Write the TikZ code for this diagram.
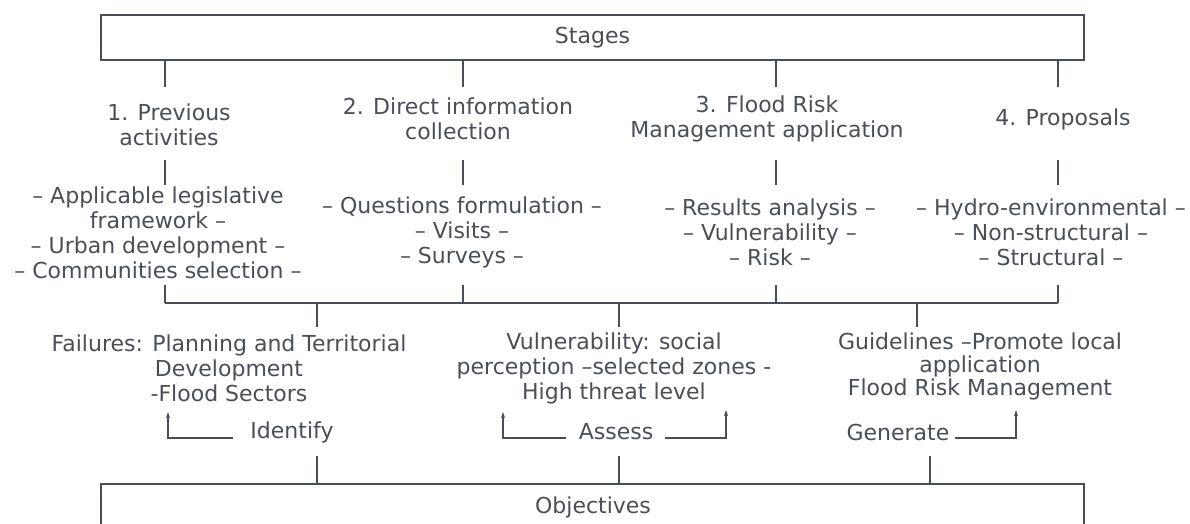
\documentclass[tikz,border=0pt]{standalone}
\usepackage{fontspec}
\setmainfont{DejaVu Sans}
\usetikzlibrary{arrows.meta}
\definecolor{ink}{HTML}{4A4F57}
\begin{document}
\begin{tikzpicture}[x=1pt,y=-1pt,
  every node/.style={text=ink,font=\fontsize{22}{25}\selectfont,align=center,inner sep=0pt},
  frame/.style={draw=ink,line width=1.6pt},
  link/.style={draw=ink,line width=1.6pt},
  pointer/.style={draw=ink,line width=1.3pt,-{Stealth[length=6pt,width=4pt]}}]
\clip (0,0) rectangle (1190,523);
\fill[white] (0,0) rectangle (1190,523);

% header and footer boxes
\draw[frame] (101,15) rectangle (1084,60);
\node (stages) at (592.5,38) {Stages};
\draw[frame] (101,484) rectangle (1084,560);
\node (objectives) at (593,507) {Objectives};

% stage titles
\node (s1) at (169,125) {1. Previous\\activities};
\node (s2) at (458,119) {2. Direct information\\collection};
\node (s3) at (767,119) {3. Flood Risk\\Management application};
\node (s4) at (1063,119) {4. Proposals};

% activities of each stage
\node (b1) at (158,232.5) {– Applicable legislative\\framework –\\– Urban development –\\– Communities selection –};
\node (b2) at (462,232) {– Questions formulation –\\– Visits –\\– Surveys –};
\node (b3) at (770,232) {– Results analysis –\\– Vulnerability –\\– Risk –};
\node (b4) at (1051,232) {– Hydro-environmental –\\– Non-structural –\\– Structural –};

% outcomes
\node (o1) at (229,368) {Failures: Planning and Territorial\\Development\\-Flood Sectors};
\node (o2) at (614,368) {Vulnerability: social\\perception –selected zones -\\High threat level};
\node[font=\fontsize{22}{23}\selectfont] (o3) at (980,366) {Guidelines –Promote local\\application\\Flood Risk Management};

% objective verbs
\node (identify) at (292,432) {Identify};
\node (assess) at (616,432) {Assess};
\node (generate) at (898,432) {Generate};

% column positions
\coordinate (c1) at (165,0);
\coordinate (c2) at (463,0);
\coordinate (c3) at (776,0);
\coordinate (c4) at (1058,0);
\coordinate (d1) at (317,0);
\coordinate (d2) at (619,0);
\coordinate (d3) at (917,0);
\coordinate (e3) at (930,0);

% pointer targets below the outcome texts
\coordinate (t1) at (168,412);
\coordinate (t2) at (503,412);
\coordinate (t3) at (726,410);
\coordinate (t4) at (1016,410);

% stage box to stage titles
\foreach \c in {c1,c2,c3,c4}
  \draw[link] (\c |- 0,60) -- (\c |- 0,87);
% stage titles to activities
\foreach \c in {c1,c2,c3,c4}
  \draw[link] (\c |- 0,160) -- (\c |- 0,185);
% activities to the collecting bus
\foreach \c in {c1,c2,c3,c4}
  \draw[link] (\c |- 0,285) -- (\c |- 0,303);
\draw[link] (c1 |- 0,303) -- (c4 |- 0,303);
% bus to outcomes
\foreach \c in {d1,d2,d3}
  \draw[link] (\c |- 0,303) -- (\c |- 0,327);
% objectives box to verbs
\foreach \c in {d1,d2,e3}
  \draw[link] (\c |- 0,484) -- (\c |- 0,456);

% verb pointers
\draw[pointer] ([xshift=-17pt,yshift=-6pt]identify.west) -| (t1);
\draw[pointer] ([xshift=-13pt,yshift=-6pt]assess.west) -| (t2);
\draw[pointer] ([xshift=12pt,yshift=-6pt]assess.east) -| (t3);
\draw[pointer] ([xshift=5pt,yshift=-6pt]generate.east) -| (t4);
\end{tikzpicture}
\end{document}
